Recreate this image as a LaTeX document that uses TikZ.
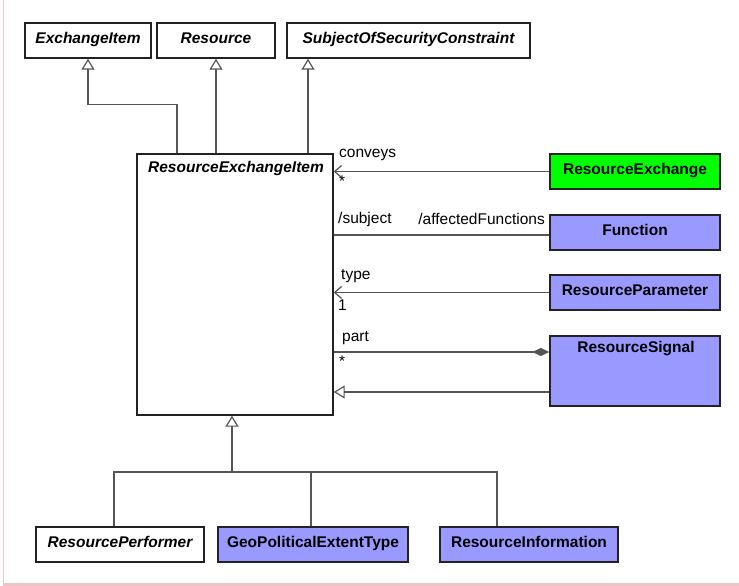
\documentclass[tikz,border=0pt]{standalone}
\usepackage{fontspec}
\setmainfont{Liberation Sans}
\usetikzlibrary{arrows.meta}
\definecolor{blu}{HTML}{9999FF}
\definecolor{grn}{HTML}{00FF00}
\definecolor{edge}{HTML}{222222}
\definecolor{conn}{HTML}{555555}
\definecolor{pinkline}{HTML}{F0C4C4}
\begin{document}
\begin{tikzpicture}[x=1pt,y=-1pt,
  cls/.style={draw=edge, line width=1.4pt, minimum height=35pt, inner sep=0pt,
    text height=11.5pt, text depth=5pt,
    font=\fontsize{15.5}{18}\selectfont\bfseries},
  abs/.style={cls, font=\fontsize{15.5}{18}\selectfont\bfseries\itshape},
  ctext/.style={inner sep=0pt, font=\fontsize{15.5}{18}\selectfont\bfseries},
  lbl/.style={inner sep=0pt, anchor=west, font=\fontsize{15.5}{18}\selectfont},
  cline/.style={draw=conn, line width=1.3pt},
  gen/.style={cline, -{Triangle[open, length=11pt, width=13pt, line width=1.2pt]}},
  nav/.style={cline, -{Straight Barb[length=7pt, width=12pt, line width=1.2pt]}},
  comp/.style={cline, {Diamond[length=17pt, width=8pt, fill=conn]}-}
]
\useasboundingbox (0,0) rectangle (739,586);
\fill[white] (0,0) rectangle (739,586);
% frame
\draw[pinkline, line width=1pt] (3,0) -- (3,584);
\fill[pinkline] (3,583) rectangle (739,586);

% top classes
\node[abs, minimum width=126pt] (EI) at (88,40.5) {ExchangeItem};
\node[abs, minimum width=118pt] (Res) at (216,40.5) {Resource};
\node[abs, minimum width=243pt] (SSC) at (408.5,40.5) {SubjectOfSecurityConstraint};

% central class
\node[draw=edge, line width=1.4pt, minimum width=196pt, minimum height=261pt, inner sep=0pt] (REI) at (235,284.5) {};
\node[ctext, font=\fontsize{15.5}{18}\selectfont\bfseries\itshape] (REIt) at (236,168) {ResourceExchangeItem};

% right classes
\node[cls, fill=grn, minimum width=170pt] (RE) at (635,171.5) {ResourceExchange};
\node[cls, fill=blu, minimum width=170pt] (Fn) at (635,232.5) {Function};
\node[cls, fill=blu, minimum width=170pt] (RP) at (635,292.5) {ResourceParameter};
\node[cls, fill=blu, minimum width=170pt, minimum height=70pt] (RS) at (635,371) {};
\node[ctext] (RSt) at (636,349) {ResourceSignal};

% bottom classes
\node[abs, minimum width=168pt] (Perf) at (120,544.5) {ResourcePerformer};
\node[cls, fill=blu, minimum width=190pt] (Geo) at (313,544.5) {GeoPoliticalExtentType};
\node[cls, fill=blu, minimum width=178pt] (RI) at (529,544.5) {ResourceInformation};

% generalizations upward
\draw[gen] ([xshift=-58pt]REI.north) |- ([yshift=-46pt]EI.south) -- (EI.south);
\draw[gen] (REI.north -| Res.south) -- (Res.south);
\draw[gen] ([xshift=73pt]REI.north) -- ([xshift=73pt]REI.north |- SSC.south);

% associations
\draw[nav] (RE.west) -- (RE.west -| REI.east);
\draw[cline] ([yshift=-2.5pt]Fn.west) -- ([yshift=-2.5pt]Fn.west -| REI.east);
\draw[nav] (RP.west) -- (RP.west -| REI.east);
\draw[comp] ([yshift=19pt]RS.west) -- ([yshift=19pt]RS.west -| REI.east);
\draw[gen] ([yshift=-21pt]RS.west) -- ([yshift=-21pt]RS.west -| REI.east);

% labels
\node[lbl] (l1) at (339,155) {conveys};
\node[lbl] (l2) at (339,181) {*};
\node[lbl] (l3) at (338,219) {/subject};
\node[lbl, anchor=east] (l4) at (545,219) {/affectedFunctions};
\node[lbl] (l5) at (341,276) {type};
\node[lbl] (l6) at (338,305) {1};
\node[lbl] (l7) at (342,338) {part};
\node[lbl] (l8) at (339,361) {*};

% generalization downward
\coordinate (j) at (232,472);
\draw[gen] (j) -- (j |- REI.south);
\draw[cline] ([xshift=-6pt]Perf.north) |- (j) -| ([xshift=-32pt]RI.north);
\draw[cline] ([xshift=-2pt]Geo.north) -- ([xshift=-2pt]Geo.north |- j);
\end{tikzpicture}
\end{document}
